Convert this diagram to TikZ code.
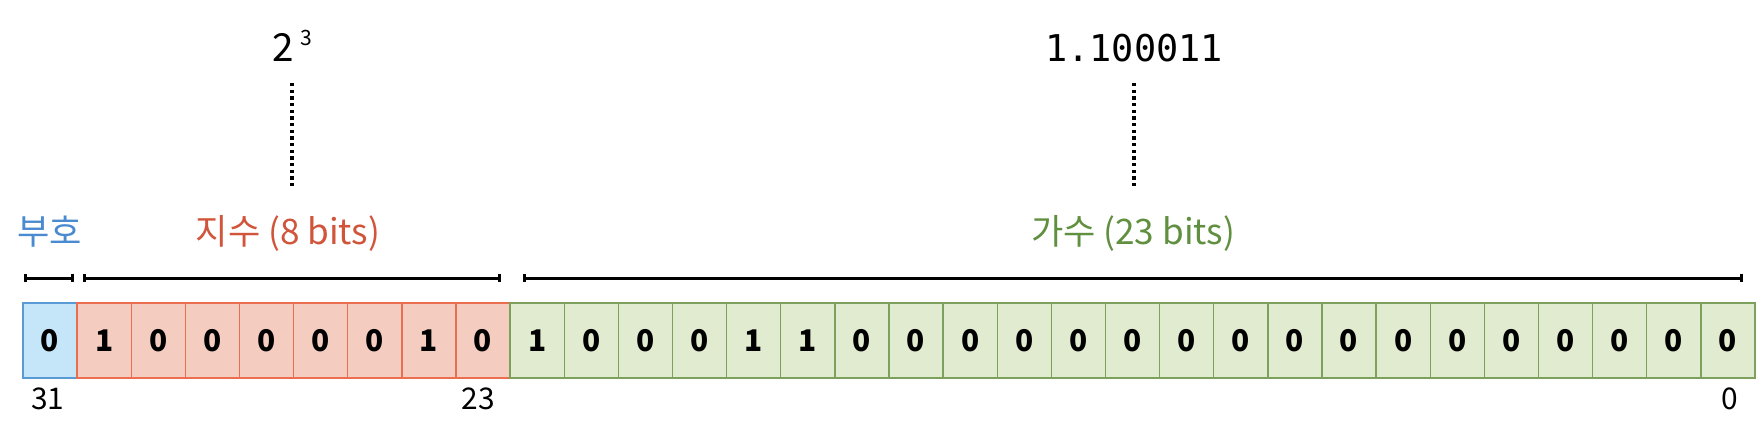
\documentclass[tikz,border=0pt]{standalone}
\usepackage{fontspec}
\setmainfont{Noto Sans CJK KR}
\newfontfamily\monofont{DejaVu Sans Mono}
\usepackage{xcolor}
\usepackage{tikz}
\usetikzlibrary{positioning, calc, arrows.meta}
\definecolor{SignFill}{HTML}{C4E6F8}
\definecolor{SignLine}{HTML}{5B9BD5}
\definecolor{ExpFill}{HTML}{F5CDC0}
\definecolor{ExpLine}{HTML}{EC6E50}
\definecolor{ManFill}{HTML}{E1EBCF}
\definecolor{ManLine}{HTML}{7DA05C}
\definecolor{SignText}{HTML}{4A8AD0}
\definecolor{ExpText}{HTML}{D0553A}
\definecolor{ManText}{HTML}{5F8F3F}
\tikzset{
    bitcell/.style={
        draw, line width=0.8pt, minimum width=1.0825cm, minimum height=1.5cm,
        inner sep=0pt, anchor=center, font=\fontsize{17pt}{19pt}\selectfont\bfseries
    },
    signcell/.style={
        bitcell, fill=SignFill, draw=SignLine
    },
    expcell/.style={
        bitcell, fill=ExpFill, draw=ExpLine
    },
    mancell/.style={
        bitcell, fill=ManFill, draw=ManLine
    },
    bitnum/.style={
        inner sep=0pt, anchor=base, font=\fontsize{17pt}{19pt}\selectfont
    },
    fieldlabel/.style={
        inner sep=0pt, anchor=base, font=\fontsize{20pt}{22pt}\selectfont
    },
    spanbar/.style={
        {Bar[width=4.5pt]}-{Bar[width=4.5pt]}, line width=1.6pt
    }
}
\begin{document}
\begin{tikzpicture}[
                x=0.02cm, y=0.02cm,
                dotline/.style={line width=1.8pt, dash pattern=on 1.8pt off 2pt}
            ]
                \useasboundingbox (0,0) rectangle (1762,432);

                % 1. CÁC Ô BIT (bit 31 bên trái)
                \node[signcell] (b0) at (50.06,91.5) {0};
                \foreach \v [count=\i from 1] in {1,0,0,0,0,0,1,0}
                    \node[expcell] (b\i) at ({23+(\i+0.5)*54.125},91.5) {\v};
                \foreach \v [count=\i from 9] in {1,0,0,0,1,1,0,0,0,0,0,0,0,0,0,0,0,0,0,0,0,0,0}
                    \node[mancell] (b\i) at ({23+(\i+0.5)*54.125},91.5) {\v};

                % 2. SỐ THỨ TỰ BIT
                \node[bitnum] (n31) at (48,22) {31};
                \node[bitnum] (n23) at (478,22) {23};
                \node[bitnum] (n0) at (1730,22) {0};

                % 3. THANH PHẠM VI
                \draw[spanbar] ($(b0.north west)+(2,24)$) -- ($(b0.north east)+(-4,24)$);
                \draw[spanbar] ($(b1.north west)+(7,24)$) -- ($(b8.north east)+(-10,24)$);
                \draw[spanbar] ($(b9.north west)+(14,24)$) -- ($(b31.north east)+(-13,24)$);

                % 4. NHÃN TRƯỜNG
                \node[fieldlabel, text=SignText] (signlabel) at (49.5,187) {부호};
                \node[fieldlabel, text=ExpText] (explabel) at (288,187) {지수 (8 bits)};
                \node[fieldlabel, text=ManText] (manlabel) at (1133,187) {가수 (23 bits)};

                % 5. GIÁ TRỊ (nét chấm)
                \node[inner sep=0pt, anchor=base, font=\fontsize{22pt}{24pt}\selectfont] (expval) at (292,370) {2\,\raisebox{0.42em}{\fontsize{12pt}{12pt}\selectfont 3}};
                \node[inner sep=0pt, anchor=base, font=\fontsize{21pt}{23pt}\selectfont\monofont] (manval) at (1134,370) {1.100011};

                \draw[dotline] ([yshift=-0.42cm]expval.base) -- ([yshift=1.16cm]expval.base |- explabel.base);
                \draw[dotline] ([yshift=-0.42cm]manval.base) -- ([yshift=1.16cm]manval.base |- manlabel.base);

            \end{tikzpicture}
\end{document}
